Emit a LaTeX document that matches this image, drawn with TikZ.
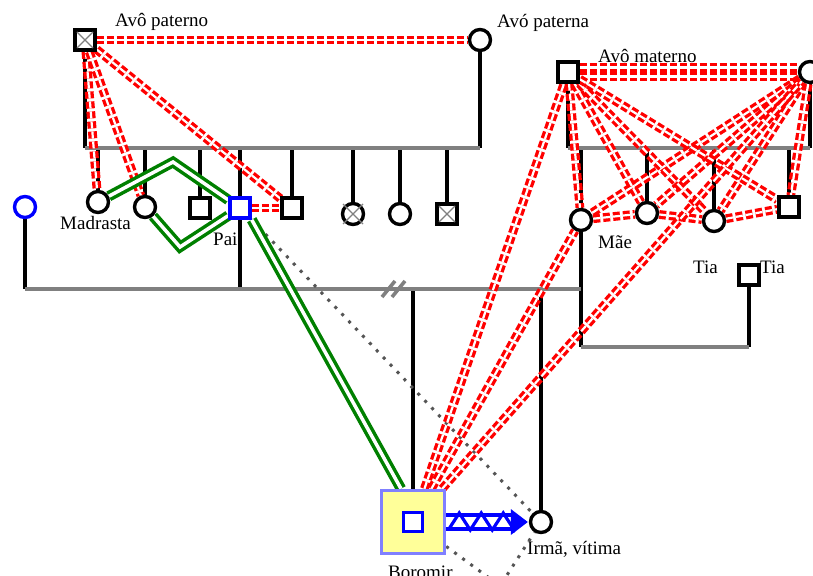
\documentclass[tikz,border=0pt]{standalone}
\usepackage{fontspec}
\setmainfont{Liberation Serif}
\usetikzlibrary{calc}
\pgfdeclarelayer{bg}
\pgfsetlayers{bg,main}
\definecolor{grn}{RGB}{0,128,0}
\definecolor{gline}{RGB}{128,128,128}
\definecolor{dotg}{RGB}{85,85,85}
\definecolor{borfill}{RGB}{255,255,153}
\definecolor{borline}{RGB}{128,128,255}
\begin{document}
\begin{tikzpicture}[x=1pt,y=-1pt,font=\fontsize{19}{21}\selectfont,
  sq/.style={rectangle,draw=black,line width=3.4pt,fill=white,minimum size=20pt,inner sep=0pt},
  ci/.style={circle,draw=black,line width=3.4pt,fill=white,minimum size=21pt,inner sep=0pt},
  lbl/.style={anchor=base west,inner sep=0pt},
  vline/.style={draw=black,line width=3.4pt},
  hline/.style={draw=gline,line width=3.6pt},
  redrel/.style={draw=red,line width=3.3pt,double=white,double distance=2.2pt,dash pattern=on 7pt off 3pt},
  greenrel/.style={draw=grn,line width=3.5pt,double=white,double distance=3.5pt,line join=miter},
  dotrel/.style={draw=dotg,line width=3pt,dash pattern=on 3pt off 7pt},
  xmark/.style={draw=gray,line width=1.2pt},
  blueline/.style={draw=blue,line width=3.2pt}]
\clip (0,0) rectangle (813,575);

% paternal nodes
\node[sq] (avoP) at (85,40) {};
\node[ci] (avoPa) at (480,40) {};
\node[ci] (mad) at (98,202) {};
\node[ci] (c2) at (145,207) {};
\node[sq] (s3) at (200,208) {};
\node[sq,draw=blue] (pai) at (240,208) {};
\node[sq] (s5) at (292,208) {};
\node[ci] (cx6) at (353,214) {};
\node[ci] (c7) at (400,214) {};
\node[sq] (sx8) at (447,214) {};
\node[ci,draw=blue] (bc) at (25,207) {};
% maternal nodes
\node[sq] (avoM) at (568,72) {};
\node[ci] (avoMa) at (810,72) {};
\node[ci] (mae) at (581,220) {};
\node[ci] (m2) at (647,213) {};
\node[ci] (m3) at (714,221) {};
\node[sq] (m4) at (789,207) {};
\node[sq] (tia) at (749,275) {};
% Boromir and sister
\node[rectangle,draw=borline,fill=borfill,line width=3.5pt,minimum size=63pt,inner sep=0pt] (bor) at (413,522) {};
\node[rectangle,draw=blue,fill=white,line width=3.5pt,minimum size=19pt,inner sep=0pt] (borin) at (413,522) {};
\node[ci] (irma) at (541,522) {};

% crosses
\draw[xmark] ($(cx6.center)+(-10,-10)$) -- ($(cx6.center)+(10,10)$);
\draw[xmark] ($(cx6.center)+(-10,10)$) -- ($(cx6.center)+(10,-10)$);
\draw[xmark] ($(sx8.center)+(-8,-8)$) -- ($(sx8.center)+(8,8)$);
\draw[xmark] ($(sx8.center)+(-8,8)$) -- ($(sx8.center)+(8,-8)$);
\draw[xmark] ($(avoP.center)+(-8,-8)$) -- ($(avoP.center)+(8,8)$);
\draw[xmark] ($(avoP.center)+(-8,8)$) -- ($(avoP.center)+(8,-8)$);

% labels
\node[lbl] (tAvoP) at (115,27) {Avô paterno};
\node[lbl] (tAvoPa) at (497,28) {Avó paterna};
\node[lbl] (tAvoM) at (598,63) {Avô materno};
\node[lbl] (tMad) at (60,229) {Madrasta};
\node[lbl] (tPai) at (213,245) {Pai};
\node[lbl] (tMae) at (598,248) {Mãe};
\node[lbl] (tTia1) at (693,273) {Tia};
\node[lbl] (tTia2) at (760,273) {Tia};
\node[lbl] (tBor) at (388,578) {Boromir};
\node[lbl] (tIrma) at (527,554) {Irmã, vítima};

% coordinates for family lines
\coordinate (sibPL) at (85,148);
\coordinate (sibPR) at (480,148);
\coordinate (sibML) at (568,148);
\coordinate (sibMR) at (810,148);
\coordinate (marL) at (25,289);
\coordinate (marR) at (581,289);
\coordinate (tiaL) at (581,347);
\coordinate (tiaR) at (749,347);
\coordinate (g1) at (173,162);
\coordinate (g2) at (180,247);
\coordinate (vb) at (500,586);

\begin{pgfonlayer}{bg}
\fill[white] (0,0) rectangle (813,575);
% genealogy lines
\draw[vline] (avoP) -- (sibPL);
\draw[vline] (avoPa) -- (sibPR);
\foreach \n in {mad,c2,s3,pai,s5,cx6,c7,sx8} \draw[vline] (\n) -- (\n |- sibPL);
\draw[hline] (sibPL) -- (sibPR);
\draw[vline] (avoM) -- (sibML);
\draw[vline] (avoMa) -- (sibMR);
\foreach \n in {mae,m2,m3,m4} \draw[vline] (\n) -- (\n |- sibML);
\draw[hline] (sibML) -- (sibMR);
\draw[vline] (bc) -- (marL);
\draw[vline] (pai) -- (pai |- marL);
\draw[vline] (mae) -- (tiaL);
\draw[vline] (tia) -- (tiaR);
\draw[hline] (tiaL) -- (tiaR);
\draw[vline] (bor) -- (bor |- marL);
\draw[vline] (irma) -- (irma |- marL);
\draw[hline] (marL) -- (marR);
\draw[hline] (382,297) -- (395,281);
\draw[hline] (392,297) -- (405,281);
% dotted relations
\draw[dotrel] (pai.south east) -- (irma);
\draw[dotrel] (bor) -- (vb) -- (irma);
% red relations paternal
\draw[redrel] (avoP) -- (avoPa);
\draw[redrel] (avoP) -- (mad);
\draw[redrel] (avoP) -- (c2);
\draw[redrel] (avoP) -- (s5);
\draw[redrel] (pai) -- (s5);
% red relations maternal
\draw[redrel] ([yshift=4.5pt]avoM.east) -- ([yshift=4.5pt]avoMa.west);
\draw[redrel] ([yshift=-4.5pt]avoM.east) -- ([yshift=-4.5pt]avoMa.west);
\foreach \n in {mae,m2,m3,m4} {
  \draw[redrel] (avoM) -- (\n);
  \draw[redrel] (avoMa) -- (\n);
}
\draw[redrel] (mae) -- (m2);
\draw[redrel] (m2) -- (m3);
\draw[redrel] (m3) -- (m4);
\draw[redrel] (bor) -- (avoM);
\draw[redrel] (bor) -- (mae);
\draw[redrel] (bor) -- (avoMa);
% green relations
\draw[greenrel] (mad) -- (g1) -- (pai);
\draw[greenrel] (c2) -- (g2) -- (pai);
\draw[greenrel] (pai.south east) -- ([xshift=-12pt]bor.north);
% blue abuse arrow
\draw[blueline] ($(bor.east)+(0,-7)$) -- ($(irma.west)+(-14,-7)$);
\draw[blueline] ($(bor.east)+(0,7)$) -- ($(irma.west)+(-14,7)$);
\draw[blueline,line join=miter] ($(bor.east)+(2,8)$) -- ++(11,-17) -- ++(11,17) -- ++(11,-17) -- ++(11,17) -- ++(11,-17) -- ++(11,17) -- ++(6,-8);
\fill[blue] ($(irma.west)+(-18,-13)$) -- ($(irma.west)+(-1,0)$) -- ($(irma.west)+(-18,13)$) -- cycle;
\end{pgfonlayer}
\end{tikzpicture}
\end{document}
